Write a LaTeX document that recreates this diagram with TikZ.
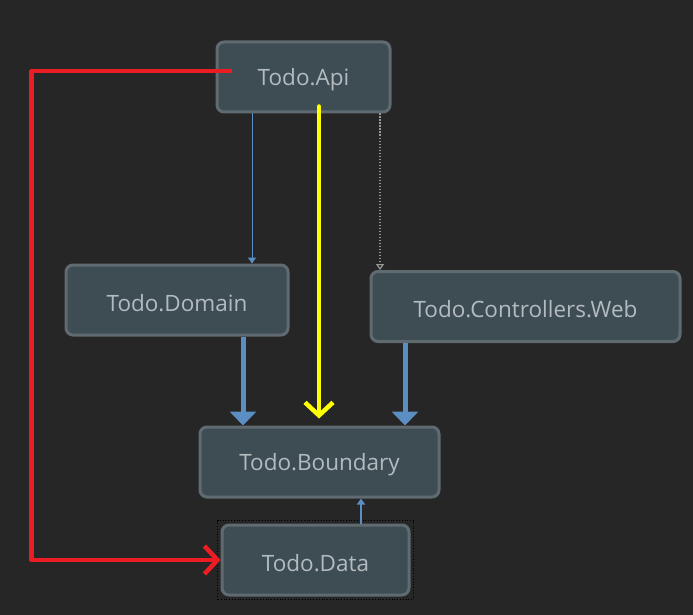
\documentclass[tikz,border=0pt]{standalone}
\usepackage{fontspec}
\setmainfont{Open Sans}
\usetikzlibrary{arrows.meta}
\definecolor{bgGray}{HTML}{262626}
\definecolor{boxFill}{HTML}{3E4D54}
\definecolor{boxLine}{HTML}{5F6B71}
\definecolor{boxText}{HTML}{B3BBBF}
\definecolor{depBlue}{HTML}{5B8EC2}
\definecolor{markRed}{HTML}{EC1C24}
\definecolor{markYellow}{HTML}{FFFF00}
\begin{document}
\begin{tikzpicture}
[x=1pt,y=-1pt,
  nodeDecorate/.style={shape=rectangle,rounded corners=7pt,draw=boxLine,line width=3pt,
    fill=boxFill,text=boxText,font=\fontsize{22.5}{26}\selectfont,
    minimum height=70pt,inner sep=0pt},%
  thinDep/.style={-{Triangle[length=6pt,width=8pt]},depBlue,line width=1pt},%
  thickDep/.style={-{Triangle[length=14pt,width=26pt]},depBlue,line width=5pt},%
  webDep/.style={-{Triangle[open,length=6pt,width=8pt]},gray!80,line width=1.2pt,
    dash pattern=on 1.5pt off 1.5pt},%
  penMark/.style={-{Straight Barb[length=13pt,width=28pt]},line width=4.5pt,
    line join=round,line cap=round}]
\useasboundingbox[fill=bgGray] (0,0) rectangle (693,615);
%% nodes or vertices
\foreach \nodename/\x/\y/\w/\txt in {
  api/303.5/77/173/Todo.Api, domain/177/300/222/Todo.Domain,
  web/525.5/306.5/309/Todo.Controllers.Web, boundary/319.5/462/239/Todo.Boundary,
  data/315.5/560/187/Todo.Data}
{
  \node (\nodename) at (\x,\y) [nodeDecorate,minimum width=\w pt]
    {\raisebox{-3pt}[\height][\depth]{\txt}};
}
\draw[black,dotted,line width=0.8pt] ([shift={(-3,3)}]data.south west)
  rectangle ([shift={(3,-3)}]data.north east);
%% edges or lines
\draw[thinDep] ([xshift=-51.5pt]api.south) -- ([xshift=-51.5pt]api.south |- domain.north);
\draw[webDep] ([xshift=76.5pt]api.south) -- ([xshift=76.5pt]api.south |- web.north);
\draw[thickDep] ([xshift=66pt]domain.south) -- ([xshift=66pt]domain.south |- boundary.north);
\draw[thickDep] ([xshift=-120.5pt]web.south) -- ([xshift=-120.5pt]web.south |- boundary.north);
\draw[thinDep,line width=1.5pt] ([xshift=45.5pt]data.north) -- ([xshift=45.5pt]data.north |- boundary.south);
%% hand drawn marks
\draw[penMark,markYellow] ([xshift=15.5pt,yshift=7pt]api.south)
  -- ([xshift=15.5pt,yshift=7pt]api.south |- boundary.north);
\draw[penMark,markRed,line cap=butt] ([xshift=16pt,yshift=6pt]api.west) -- ++(-200,0)
  |- (data.west);
\end{tikzpicture}
\end{document}
